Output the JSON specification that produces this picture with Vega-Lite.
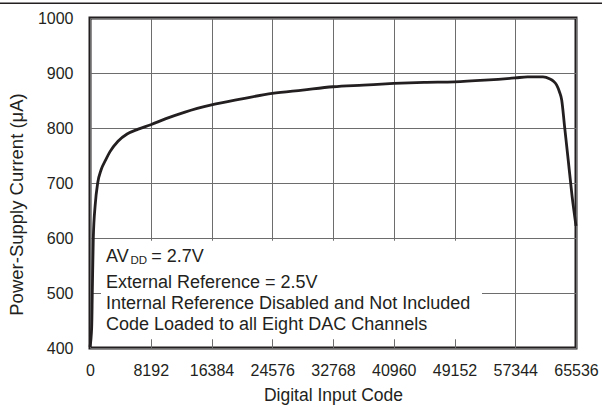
{
  "$schema": "https://vega.github.io/schema/vega-lite/v6.json",
  "autosize": {"type": "none"},
  "width": 486,
  "height": 330,
  "padding": {"left": 90, "top": 18, "right": 26, "bottom": 59},
  "background": "white",
  "config": {
    "view": {"stroke": "#231f20", "strokeWidth": 3},
    "font": "Liberation Sans",
    "axis": {
      "domain": false,
      "ticks": false,
      "grid": true,
      "gridColor": "#6d6d6d",
      "gridWidth": 1,
      "labelOverlap": false,
      "labelFlush": false,
      "labelFont": "Liberation Sans",
      "labelFontSize": 16,
      "labelColor": "#231f20",
      "titleFont": "Liberation Sans",
      "titleFontSize": 17.5,
      "titleFontWeight": "normal",
      "titleColor": "#231f20"
    }
  },
  "datasets": {
    "curve": [
      {"code": 0, "current": 402},
      {"code": 229, "current": 438},
      {"code": 310, "current": 500},
      {"code": 445, "current": 600},
      {"code": 700, "current": 660},
      {"code": 1038, "current": 700},
      {"code": 1500, "current": 724},
      {"code": 2117, "current": 742},
      {"code": 2697, "current": 757},
      {"code": 3776, "current": 776},
      {"code": 5000, "current": 789},
      {"code": 6500, "current": 798},
      {"code": 8192, "current": 806},
      {"code": 10240, "current": 817},
      {"code": 12810, "current": 829},
      {"code": 16384, "current": 842},
      {"code": 20480, "current": 853},
      {"code": 24576, "current": 863},
      {"code": 28672, "current": 869},
      {"code": 32768, "current": 875},
      {"code": 36864, "current": 878},
      {"code": 40960, "current": 881},
      {"code": 45056, "current": 883},
      {"code": 49152, "current": 884},
      {"code": 53248, "current": 887},
      {"code": 57344, "current": 891},
      {"code": 59000, "current": 893},
      {"code": 61085, "current": 893},
      {"code": 62030, "current": 889},
      {"code": 62500, "current": 885},
      {"code": 62933, "current": 878},
      {"code": 63300, "current": 866},
      {"code": 63607, "current": 851},
      {"code": 64000, "current": 802},
      {"code": 64500, "current": 740},
      {"code": 65000, "current": 677},
      {"code": 65535, "current": 622}
    ],
    "box": [{"x1": 1483, "x2": 52860, "y1": 416, "y2": 595}],
    "notes": [
      {"x": 2157, "y": 565.5, "label": "AV"},
      {"x": 8250, "y": 565.5, "label": "= 2.7V"},
      {"x": 2157, "y": 518.7, "label": "External Reference = 2.5V"},
      {"x": 2157, "y": 479.5, "label": "Internal Reference Disabled and Not Included"},
      {"x": 2157, "y": 441.3, "label": "Code Loaded to all Eight DAC Channels"}
    ],
    "subs": [{"x": 5450, "y": 558, "label": "DD"}],
    "frame": [{"x1": -12137, "x2": 69042, "y": 1026.7}]
  },
  "layer": [
    {
      "data": {"name": "box"},
      "mark": {"type": "rect", "fill": "white", "stroke": null},
      "encoding": {
        "x": {"field": "x1", "type": "quantitative", "scale": {"domain": [0, 65536], "nice": false, "zero": false},
          "axis": {"values": [0, 8192, 16384, 24576, 32768, 40960, 49152, 57344, 65536], "format": "d", "labelPadding": 14, "title": "Digital Input Code", "titlePadding": 8}},
        "x2": {"field": "x2"},
        "y": {"field": "y1", "type": "quantitative", "scale": {"domain": [400, 1000], "nice": false, "zero": false},
          "axis": {"values": [400, 500, 600, 700, 800, 900, 1000], "format": "d", "labelPadding": 17, "title": "Power-Supply Current (μA)", "titlePadding": 11, "titleFontSize": 18.5, "titleY": 186}},
        "y2": {"field": "y2"}
      }
    },
    {
      "data": {"name": "curve"},
      "mark": {"type": "line", "color": "#231f20", "strokeWidth": 2.8, "interpolate": "monotone"},
      "encoding": {
        "x": {"field": "code", "type": "quantitative"},
        "y": {"field": "current", "type": "quantitative"}
      }
    },
    {
      "data": {"name": "notes"},
      "mark": {"type": "text", "align": "left", "baseline": "middle", "fontSize": 18, "color": "#231f20", "font": "Liberation Sans"},
      "encoding": {
        "x": {"field": "x", "type": "quantitative"},
        "y": {"field": "y", "type": "quantitative"},
        "text": {"field": "label"}
      }
    },
    {
      "data": {"name": "subs"},
      "mark": {"type": "text", "align": "left", "baseline": "middle", "fontSize": 11.5, "color": "#231f20", "font": "Liberation Sans"},
      "encoding": {
        "x": {"field": "x", "type": "quantitative"},
        "y": {"field": "y", "type": "quantitative"},
        "text": {"field": "label"}
      }
    },
    {
      "data": {"name": "frame"},
      "mark": {"type": "rule", "color": "#231f20", "strokeWidth": 1.5},
      "encoding": {
        "x": {"field": "x1", "type": "quantitative"},
        "x2": {"field": "x2"},
        "y": {"field": "y", "type": "quantitative"}
      }
    }
  ]
}
